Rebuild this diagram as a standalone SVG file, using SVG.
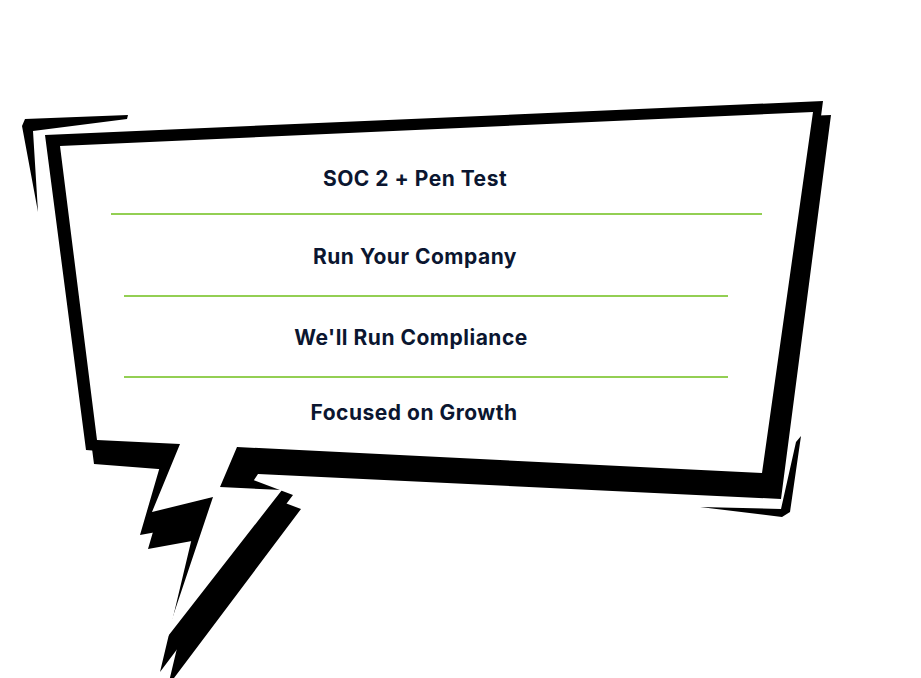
<svg xmlns="http://www.w3.org/2000/svg" width="921" height="678" viewBox="0 0 921 678">
<style>
.t{font-family:Inter,"Noto Sans",sans-serif;font-weight:700;font-size:21px;letter-spacing:0.5px;fill:#0b1630;text-anchor:middle}
.g{stroke:#6fbf1a;stroke-width:1.6}
</style>
<rect width="921" height="678" fill="#fff"/>
<g id="bubble">
<polygon fill="#000" points="53,147 831,115 781,499 258,474 248,489 301,509 168,686 203,539 148,549 171,470 94,464"/>
<polygon fill="#000" points="45,135 823,101 773,485 250,460 240,475 293,495 160,672 195,525 140,535 163,456 86,450"/>
<polygon fill="#fff" points="60,146 813,112 762,473 237,447 220,487 282,490 165,640 213,497 152,512 180,444 97,440"/>
<polygon fill="#000" points="128,115 25,119 22,126 38,212 33,131 127,119"/>
<polygon fill="#000" points="801,436 790,512 782,517 700,507 781,509 796,442"/>
</g>
<g id="connectors">
<line class="g" x1="111" y1="214" x2="762" y2="214"/>
<line class="g" x1="124" y1="296" x2="728" y2="296"/>
<line class="g" x1="124" y1="377" x2="728" y2="377"/>
</g>
<g id="n1"><text class="t" x="415" y="186">SOC 2 + Pen Test</text></g>
<g id="n2"><text class="t" x="415" y="264">Run Your Company</text></g>
<g id="n3"><text class="t" x="411" y="345">We'll Run Compliance</text></g>
<g id="n4"><text class="t" x="414" y="420">Focused on Growth</text></g>
</svg>
